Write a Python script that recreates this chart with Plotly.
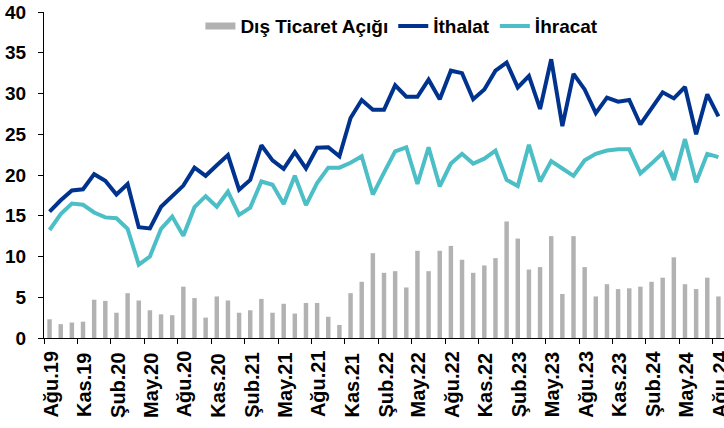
import plotly.graph_objects as go

# monthly values, Ağu.19 .. Ağu.24 (billion USD)
dis_ticaret_acigi = [
    2.3, 1.7, 1.9, 2.0, 4.7, 4.55, 3.1, 5.5, 4.6, 3.4, 2.9, 2.8,
    6.3, 4.9, 2.5, 5.1, 4.6, 3.1, 3.4, 4.8, 3.1, 4.2, 3.0, 4.3,
    4.3, 2.6, 1.6, 5.5, 6.9, 10.4, 8.0, 8.2, 6.2, 10.7, 8.2, 10.7,
    11.3, 9.6, 8.0, 8.9, 9.8, 14.3, 12.2, 8.4, 8.7, 12.5, 5.4, 12.5,
    8.7, 5.1, 6.6, 6.0, 6.1, 6.3, 6.9, 7.4, 9.9, 6.6, 6.0, 7.4, 5.1,
]
ithalat = [
    15.5, 16.9, 18.1, 18.25, 20.1, 19.3, 17.6, 18.9, 13.6, 13.45, 16.1, 17.4,
    18.7, 20.9, 19.9, 21.2, 22.45, 18.2, 19.4, 23.65, 21.8, 20.75, 22.8, 20.8,
    23.35, 23.4, 22.3, 27.0, 29.2, 28.0, 28.0, 31.0, 29.6, 29.6, 31.7, 29.3,
    32.8, 32.5, 29.3, 30.5, 32.8, 33.8, 30.75, 32.15, 28.1, 34.2, 26.0, 32.4,
    30.5, 27.6, 29.5, 29.0, 29.2, 26.2, 28.1, 30.15, 29.4, 30.8, 25.0, 29.9, 27.2,
]
ihracat = [
    13.25, 15.2, 16.5, 16.35, 15.4, 14.8, 14.7, 13.4, 9.0, 10.0, 13.4, 14.9,
    12.55, 16.05, 17.4, 16.1, 17.95, 15.1, 16.0, 19.2, 18.8, 16.45, 19.9, 16.3,
    19.0, 20.9, 20.9, 21.5, 22.3, 17.6, 20.3, 22.9, 23.4, 18.9, 23.4, 18.6,
    21.4, 22.6, 21.4, 22.0, 23.0, 19.4, 18.65, 23.7, 19.2, 21.7, 20.8, 19.9,
    21.8, 22.6, 23.0, 23.15, 23.15, 20.2, 21.4, 22.7, 19.4, 24.4, 19.1, 22.6, 22.2,
]
tick_labels = [
    "Ağu.19", "Kas.19", "Şub.20", "May.20", "Ağu.20", "Kas.20", "Şub.21",
    "May.21", "Ağu.21", "Kas.21", "Şub.22", "May.22", "Ağu.22", "Kas.22",
    "Şub.23", "May.23", "Ağu.23", "Kas.23", "Şub.24", "May.24", "Ağu.24",
]

BAR_COLOR = "#B2B2B2"
x = list(range(len(ithalat)))
tick_pos = x[::3]
font = dict(family="Liberation Sans, Arial, sans-serif", size=19, color="black", weight="bold")

fig = go.Figure()
fig.add_trace(
    go.Bar(
        x=x,
        y=dis_ticaret_acigi,
        name="Dış Ticaret Açığı",
        marker=dict(color=BAR_COLOR, line=dict(width=0)),
        width=0.4,
        showlegend=False,
    )
)
# legend entry drawn as a wide bar, like the original
fig.add_trace(
    go.Scatter(
        x=[None],
        y=[None],
        name="Dış Ticaret Açığı",
        mode="lines",
        line=dict(color=BAR_COLOR, width=7),
    )
)
fig.add_trace(
    go.Scatter(
        x=x,
        y=ithalat,
        name="İthalat",
        mode="lines",
        line=dict(color="#00338D", width=4),
    )
)
fig.add_trace(
    go.Scatter(
        x=x,
        y=ihracat,
        name="İhracat",
        mode="lines",
        line=dict(color="#4BBEC6", width=4),
    )
)

# month labels, bottom-aligned like the original (Excel style)
for pos, label in zip(tick_pos, tick_labels):
    fig.add_annotation(
        x=pos,
        xref="x",
        y=-0.25,
        yref="paper",
        text=label,
        textangle=-90,
        showarrow=False,
        xanchor="center",
        yanchor="bottom",
        xshift=1,
        font=dict(size=20),
    )

fig.update_layout(
    width=724,
    height=428,
    margin=dict(l=44, r=0, t=12, b=90),
    plot_bgcolor="white",
    paper_bgcolor="white",
    font=font,
    showlegend=True,
    legend=dict(
        orientation="h",
        x=0.23,
        xanchor="left",
        y=1.015,
        yanchor="top",
        font=dict(size=19),
        bgcolor="rgba(0,0,0,0)",
        itemwidth=30,
        tracegroupgap=0,
    ),
    xaxis=dict(
        range=[-0.5, 60.5],
        automargin=False,
        tickmode="array",
        tickvals=tick_pos,
        showticklabels=False,
        ticks="",
        showline=True,
        linecolor="black",
        linewidth=1,
        showgrid=False,
        zeroline=False,
        minor=dict(
            tickmode="array",
            tickvals=[v - 0.5 for v in tick_pos],
            ticks="outside",
            ticklen=5,
            tickcolor="black",
            showgrid=False,
        ),
    ),
    yaxis=dict(
        range=[0, 40],
        automargin=False,
        dtick=5,
        ticks="outside",
        ticklen=5,
        tickcolor="black",
        showline=True,
        linecolor="black",
        linewidth=1,
        showgrid=False,
        zeroline=False,
        ticklabelstandoff=8,
    ),
)

fig.write_html(
    "out.html",
    config={"displayModeBar": False},
    post_script="document.body.style.margin = '0';",
)
